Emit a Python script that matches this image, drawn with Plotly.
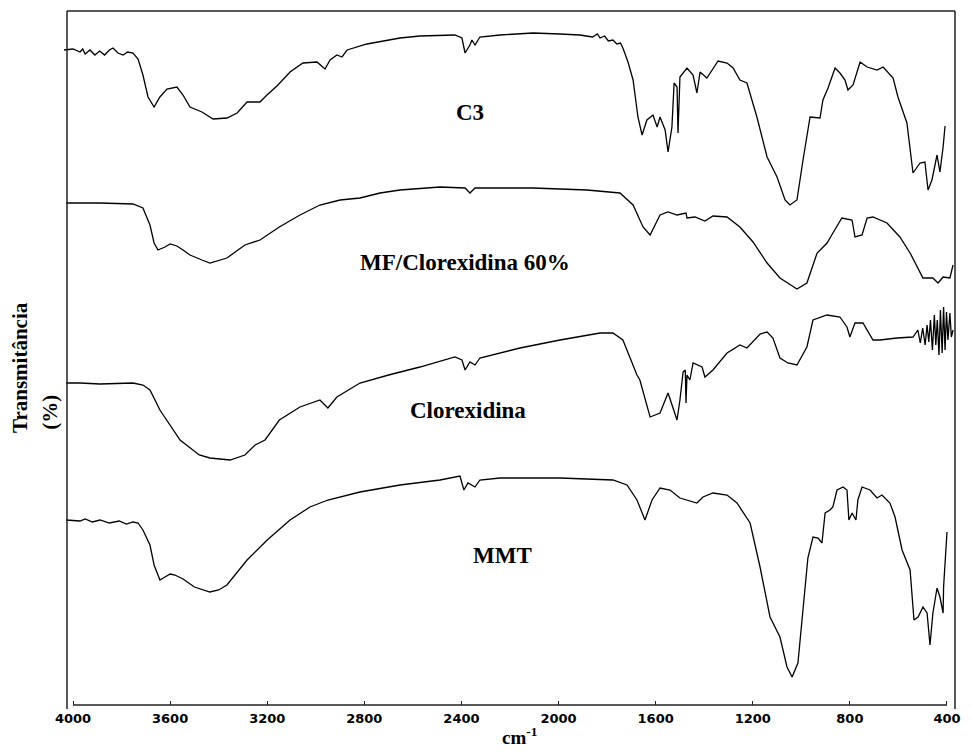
import plotly.graph_objects as go

# FTIR spectra, transmittance in arbitrary units (curves offset vertically)
c3_wn = [4037, 4000, 3971, 3960, 3950, 3942, 3930, 3910, 3890, 3870, 3850, 3835, 3815, 3794,
         3775, 3753, 3740, 3732, 3712, 3691, 3666, 3642, 3613, 3572, 3547, 3518, 3469, 3423,
         3366, 3324, 3283, 3230, 3201, 3160, 3106, 3053, 2995, 2962, 2941, 2913, 2892, 2871,
         2789, 2723, 2653, 2571, 2488, 2427, 2398, 2385, 2365, 2357, 2344, 2324, 2241, 2159,
         2105, 1994, 1912, 1860, 1840, 1829, 1810, 1795, 1776, 1760, 1745, 1735, 1714, 1693,
         1673, 1656, 1636, 1611, 1594, 1582,
         1561, 1549, 1533, 1524, 1512, 1508, 1500, 1471, 1446, 1430, 1417, 1389, 1343, 1306,
         1281, 1253, 1224, 1183, 1141, 1100, 1067, 1047, 1018, 993, 964, 923, 911, 890, 861,
         841, 820, 808, 787, 758, 729, 688, 663, 622, 602, 565, 540, 511, 491, 478, 462, 441,
         429, 416, 408]
c3_t = [655, 656, 653, 656, 651, 653, 655, 650, 654, 650, 655, 657, 652, 650,
        653, 652, 648, 646, 630, 608, 598, 608, 616, 618, 610, 598, 593, 586,
        587, 592, 603, 603, 610, 619, 633, 642, 643, 636, 645, 650, 648, 655,
        661, 664, 667, 669, 670, 670, 667, 652, 660, 665, 660, 668, 670, 671,
        672, 671, 670, 668, 671, 667, 669, 664, 665, 661, 662, 657, 643, 625,
        588, 570, 585, 590, 578, 588,
        575, 553, 578, 622, 618, 572, 628, 637, 630, 612, 633, 627, 644, 642,
        637, 625, 622, 588, 548, 528, 505, 500, 505, 545, 588, 587, 605, 617, 637,
        632, 625, 615, 620, 643, 638, 635, 638, 627, 608, 582, 532, 542, 543, 515, 525, 550,
        533, 558, 579]

mf_wn = [4029, 3971, 3889, 3753, 3712, 3683, 3666, 3650, 3621, 3600, 3572, 3547, 3518, 3469,
         3436, 3366, 3292, 3230, 3150, 3065, 2983, 2900, 2818, 2735, 2653, 2488, 2385, 2365,
         2344, 2295, 2105, 1883, 1747, 1693, 1652, 1623, 1582, 1549, 1512, 1475, 1471, 1438,
         1397, 1364, 1306, 1253, 1199, 1141, 1088, 1018, 977, 935, 894, 870, 833, 791, 779,
         750, 729, 705, 647, 594, 552, 499, 458, 437, 416, 388, 375]
mf_t = [502, 502, 502, 501, 497, 480, 462, 455, 458, 461, 459, 455, 450, 445,
        442, 447, 460, 465, 478, 490, 500, 505, 507, 512, 515, 518, 517, 512,
        517, 517, 517, 515, 512, 500, 478, 470, 490, 493, 490, 492, 487, 488,
        484, 489, 488, 478, 463, 442, 427, 416, 422, 452, 462, 472, 487, 485, 468,
        470, 487, 488, 482, 468, 452, 427, 427, 422, 428, 427, 440]

clx_wn = [4029, 3971, 3889, 3753, 3712, 3683, 3642, 3559, 3480, 3436, 3353, 3292, 3250, 3209,
          3150, 3065, 2983, 2950, 2913, 2818, 2700, 2571, 2427, 2398, 2385, 2365, 2344, 2324,
          2159, 1994, 1829, 1776, 1735, 1677, 1665, 1623, 1582, 1549, 1512, 1500, 1487, 1478,
          1475, 1471, 1459, 1446, 1409, 1397, 1364, 1306, 1253, 1224, 1170, 1141, 1117, 1088,
          1055, 1018, 977, 952, 894, 841, 812, 800, 779, 746, 705, 676, 606, 540, 520, 510,
          500, 490, 482, 475, 468, 460, 452, 446, 440, 433, 427, 420, 414, 408, 402, 396, 388,
          382, 375]
clx_t = [322, 322, 321, 322, 320, 315, 295, 265, 250, 247, 245, 250, 260, 265,
         285, 298, 305, 297, 308, 322, 330, 338, 348, 345, 335, 343, 340, 347,
         357, 365, 372, 372, 365, 330, 325, 288, 292, 312, 285, 305, 333, 335,
         302, 330, 325, 342, 338, 328, 335, 352, 360, 357, 371, 373, 367, 347,
         342, 340, 358, 385, 390, 388, 378, 368, 382, 382, 365, 365, 367, 368, 375, 362,
         377, 360, 380, 363, 385, 355, 390, 360, 385, 350, 395, 352, 398, 355, 393, 365, 392,
         368, 375]

mmt_wn = [4029, 3971, 3950, 3920, 3889, 3850, 3810, 3780, 3753, 3732, 3712, 3683, 3666, 3642,
          3621, 3600, 3580, 3547, 3500, 3436, 3400, 3366, 3283, 3200, 3106, 3024, 2950, 2818,
          2653, 2488, 2406, 2390, 2373, 2344, 2324, 2241, 1994, 1912, 1776, 1718, 1677, 1644,
          1615, 1582, 1541, 1500, 1430, 1405, 1364, 1306, 1265, 1211, 1170, 1129, 1088, 1059,
          1038, 1014, 993, 973, 952, 931, 915, 902, 882, 870, 853, 828, 812, 804, 791, 775,
          767, 750, 717, 688, 668, 635, 614, 585, 552, 536, 519, 499, 482, 470, 458, 441, 429,
          416, 414, 408, 400]
mmt_t = [185, 184, 186, 183, 185, 182, 184, 181, 183, 182, 175, 160, 140, 125,
         128, 131, 130, 126, 118, 113, 115, 120, 145, 165, 185, 198, 205, 213,
         220, 225, 229, 215, 222, 218, 225, 227, 227, 226, 225, 220, 205, 185,
         205, 217, 215, 207, 202, 208, 212, 210, 202, 182, 138, 88, 68, 38,
         28, 42, 92, 147, 168, 167, 162, 192, 195, 198, 215, 218, 215, 185, 192, 185,
         205, 218, 215, 207, 210, 202, 188, 155, 135, 85, 88, 98, 92, 60, 92, 117, 108,
         92, 118, 143, 173]

series = [(c3_wn, c3_t), (mf_wn, mf_t), (clx_wn, clx_t), (mmt_wn, mmt_t)]

# sample names placed beside their spectra (wavenumber, transmittance)
label_text = ["C3", "MF/Clorexidina 60%", "Clorexidina", "MMT"]
label_wn = [2365, 2385, 2373, 2229]
label_t = [593, 443, 295, 150]

tick_vals = [4000, 3600, 3200, 2800, 2400, 2000, 1600, 1200, 800, 400]

fig = go.Figure()
for wn, t in series:
    fig.add_trace(go.Scatter(x=wn, y=t, mode="lines",
                             line=dict(color="black", width=1.3),
                             showlegend=False, hoverinfo="skip"))

serif = "Liberation Serif, Times New Roman, serif"

for txt, xw, yt in zip(label_text, label_wn, label_t):
    fig.add_annotation(x=xw, y=yt, xref="x", yref="y", text=f"<b>{txt}</b>",
                       showarrow=False, xanchor="center", yanchor="middle",
                       font=dict(family=serif, size=23, color="black"))

# y-axis title in two separate lines
fig.add_annotation(x=-0.0494, y=0.487, xref="paper", yref="paper", text="<b>Transmitância</b>",
                   textangle=-90, showarrow=False, xanchor="center", yanchor="middle",
                   font=dict(family=serif, size=21, color="black"))
fig.add_annotation(x=-0.0157, y=0.421, xref="paper", yref="paper", text="<b>(%)</b>",
                   textangle=-90, showarrow=False, xanchor="center", yanchor="middle",
                   font=dict(family=serif, size=21, color="black"))
# x-axis title
fig.add_annotation(x=0.5107, y=-0.0655, xref="paper", yref="paper",
                   text="<b>cm<sup>-1</sup></b>", showarrow=False,
                   xanchor="center", yanchor="bottom",
                   font=dict(family=serif, size=19, color="black"))

frame = dict(color="#222", width=1.5)
# open frame: left, top and right edges
fig.add_shape(type="line", xref="paper", yref="paper", x0=0.00337, x1=0.00337, y0=-0.00576, y1=1, line=frame)
fig.add_shape(type="line", xref="paper", yref="paper", x0=0.00337, x1=1, y0=1, y1=1, line=frame)
fig.add_shape(type="line", xref="paper", yref="paper", x0=1, x1=1, y0=1, y1=-0.00576, line=frame)
# wavenumber axis line spanning the tick range
fig.add_shape(type="line", xref="x", yref="paper", x0=4000, x1=400, y0=0, y1=0,
              line=dict(color="#222", width=1.3))

fig.update_layout(
    width=971, height=751,
    margin=dict(l=64, r=16, t=11, b=46),
    paper_bgcolor="white", plot_bgcolor="white",
    xaxis=dict(range=[4037.1, 367.0], tickvals=tick_vals,
               ticktext=[str(v) for v in tick_vals],
               ticks="inside", ticklen=4, tickwidth=1.2, tickcolor="#222",
               showline=False, showgrid=False, zeroline=False,
               ticklabelstandoff=4,
               tickfont=dict(family="DejaVu Sans", size=13, color="black", weight="bold")),
    yaxis=dict(range=[0, 694], visible=False, showgrid=False, zeroline=False),
)

fig.write_html("out.html")
